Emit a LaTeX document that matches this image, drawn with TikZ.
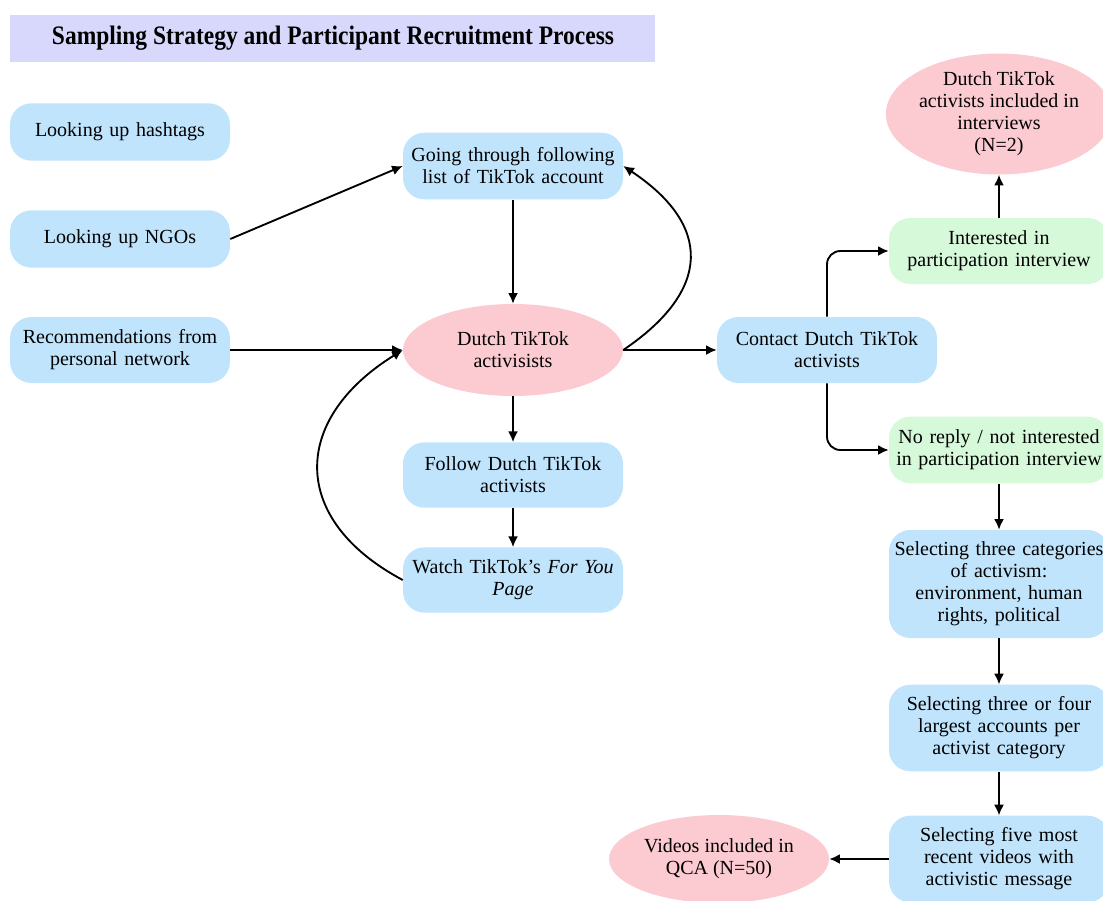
\documentclass[tikz,border=0pt]{standalone}
\usepackage{fontspec}
\setmainfont{Liberation Serif}
\usetikzlibrary{shapes.geometric,arrows.meta}
\definecolor{boxblue}{RGB}{192,228,252}
\definecolor{boxpink}{RGB}{252,203,210}
\definecolor{boxgreen}{RGB}{214,249,218}
\definecolor{titleblue}{RGB}{216,216,252}
\begin{document}
\begin{tikzpicture}[x=0.75pt,y=-0.75pt,
  base/.style={font=\fontsize{15}{16.5}\selectfont, align=center, inner sep=2pt, text=black},
  bluebox/.style={base, rectangle, rounded corners=16pt, fill=boxblue, minimum width=165pt, text width=160pt},
  greenbox/.style={base, rectangle, rounded corners=16pt, fill=boxgreen, minimum width=165pt, text width=160pt},
  pinkell/.style={base, ellipse, fill=boxpink, inner sep=0pt, minimum width=165pt},
  arr/.style={line width=1.4pt, -{Latex[length=8pt,width=7.5pt]}}]
\useasboundingbox (0,0) rectangle (1103,900);
% title
\fill[titleblue] (10,15) rectangle (655,62);
\node[inner sep=0pt] (title) at (333,38) {\scalebox{0.88}[1]{\fontsize{20}{22}\selectfont\bfseries Sampling Strategy and Participant Recruitment Process}};
% left column
\node[bluebox, minimum height=43pt] (hash) at (120,132) {Looking up hashtags};
\node[bluebox, minimum height=43pt] (ngo) at (120,239) {Looking up NGOs};
\node[bluebox, minimum height=49.5pt] (rec) at (120,350) {Recommendations from\\personal network};
% middle column
\node[bluebox, minimum height=50pt] (going) at (513,166) {Going through following\\list of TikTok account};
\node[pinkell, minimum height=69pt] (dutch) at (513,350) {Dutch TikTok\\activisists};
\node[bluebox, minimum height=49pt] (follow) at (513,475) {Follow Dutch TikTok\\activists};
\node[bluebox, minimum height=49pt] (watch) at (513,580) {Watch TikTok's \textit{For You}\\\textit{Page}};
% contact
\node[bluebox, minimum height=49.5pt] (contact) at (827,350) {Contact Dutch TikTok\\activists};
% right column
\node[pinkell, minimum height=90.75pt] (incl) at (999,114) {Dutch TikTok\\activists included in\\interviews\\(N=2)};
\node[greenbox, minimum height=49.5pt] (inter) at (999,251) {Interested in\\participation interview};
\node[greenbox, minimum height=50pt] (noreply) at (999,450) {No reply / not interested\\in participation interview};
\node[bluebox, minimum height=81pt] (cats) at (999,584) {Selecting three categories\\of activism:\\environment, human\\rights, political};
\node[bluebox, minimum height=65pt] (largest) at (999,728) {Selecting three or four\\largest accounts per\\activist category};
\node[bluebox, minimum height=65pt] (five) at (999,859) {Selecting five most\\recent videos with\\activistic message};
\node[pinkell, minimum height=66pt] (videos) at (719,859) {Videos included in\\QCA (N=50)};
% connectors
\draw[arr] (ngo.east) -- (going.west);
\draw[arr] (rec.east) -- (dutch.west);
\draw[arr] (going.south) -- (dutch.north);
\draw[arr] (dutch.east) .. controls (712,290) and (712,225) .. (going.east);
\draw[arr] (dutch.south) -- (follow.north);
\draw[arr] (follow.south) -- (watch.north);
\draw[arr] (watch.west) .. controls (290,520) and (290,420) .. (dutch.west);
\draw[arr] (dutch.east) -- (contact.west);
\draw[arr, rounded corners=10pt] (contact.north) |- (inter.west);
\draw[arr, rounded corners=10pt] (contact.south) |- (noreply.west);
\draw[arr] (inter.north) -- (incl.south);
\draw[arr] (noreply.south) -- (cats.north);
\draw[arr] (cats.south) -- (largest.north);
\draw[arr] (largest.south) -- (five.north);
\draw[arr] (five.west) -- (videos.east);
\end{tikzpicture}
\end{document}
